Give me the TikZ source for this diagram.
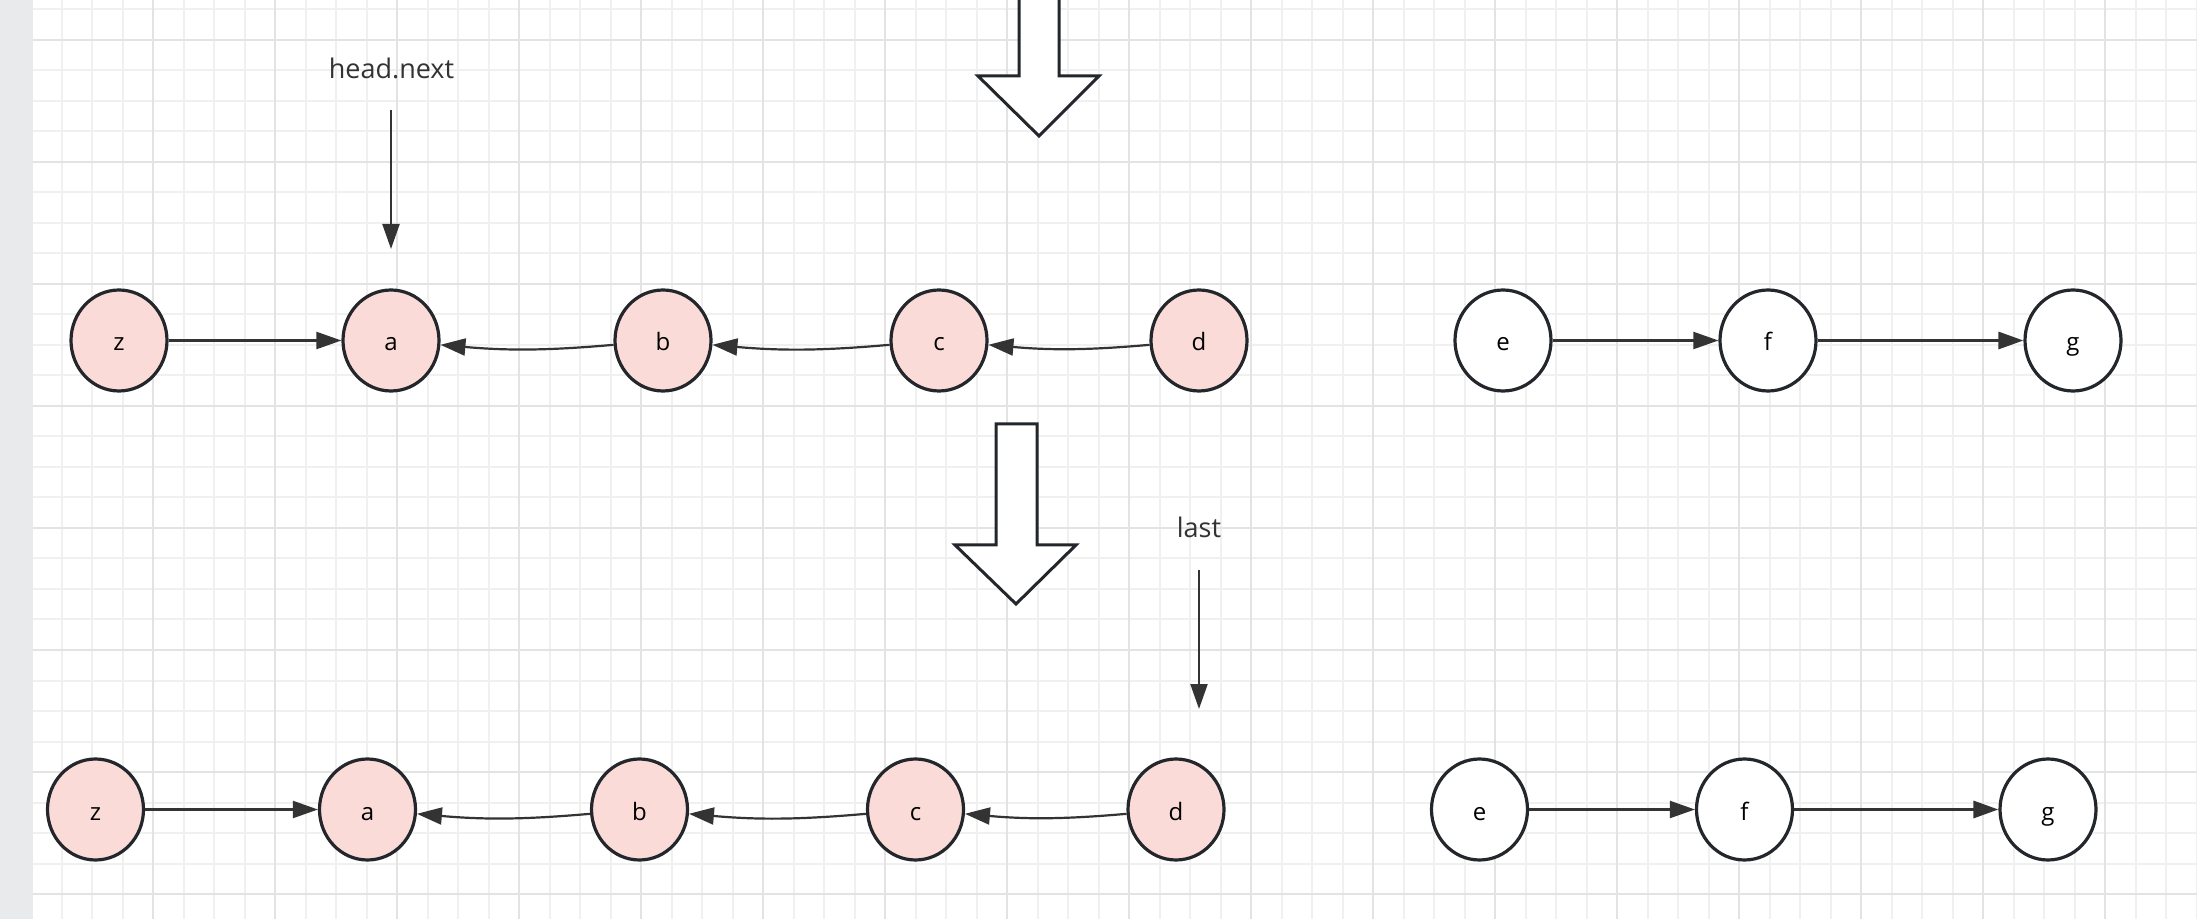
\documentclass[tikz,border=0pt]{standalone}
\usepackage{fontspec}
\setmainfont{Open Sans}
\usetikzlibrary{arrows.meta,shapes.geometric}
\definecolor{gridminor}{HTML}{F0F0F0}
\definecolor{gridmajor}{HTML}{E3E3E3}
\definecolor{sidebar}{HTML}{E9EAEC}
\definecolor{nodefill}{HTML}{FADBD8}
\definecolor{nodestroke}{HTML}{23272C}
\definecolor{edgecol}{HTML}{333333}
\definecolor{labelcol}{HTML}{333333}
\tikzset{
  listnode/.style={ellipse, draw=nodestroke, line width=1.6pt, minimum width=48pt, minimum height=50.5pt, inner sep=0pt,
    font=\fontsize{12}{12}\selectfont, text=black, text height=10.5pt, text depth=0pt},
  pinknode/.style={listnode, fill=nodefill},
  whitenode/.style={listnode, fill=white},
  edge/.style={draw=edgecol, line width=1.1pt, -{Triangle[length=12.5pt,width=8.5pt]}},
  pointerlabel/.style={font=\fontsize{13.5}{13.5}\selectfont, text=labelcol, inner sep=0pt, anchor=base},
  bigarrow/.style={draw=nodestroke, line width=1.5pt, fill=white, line join=miter},
  minorline/.style={draw=gridminor, line width=1pt},
  majorline/.style={draw=gridmajor, line width=1pt}
}
\begin{document}
\begin{tikzpicture}[x=0.5pt, y=-0.5pt]
\useasboundingbox (0,0) rectangle (2197,919);
\fill[white] (0,0) rectangle (2197,919);
% grid
\foreach \i in {0,...,71} {\draw[minorline] ({31+30.5*\i},0) -- ({31+30.5*\i},919);}
\foreach \i in {0,...,30} {\draw[minorline] (0,{9.5+30.5*\i}) -- (2197,{9.5+30.5*\i});}
\foreach \i in {0,...,17} {\draw[majorline] ({31+122*\i},0) -- ({31+122*\i},919);}
\foreach \i in {0,...,7} {\draw[majorline] (0,{40+122*\i}) -- (2197,{40+122*\i});}
\fill[sidebar] (0,0) rectangle (33,919);

% top hollow arrow
\draw[bigarrow] (1019,-5) -- (1019,76) -- (978,76) -- (1039,136) -- (1099,76) -- (1059,76) -- (1059,-5);
% middle hollow arrow
\draw[bigarrow] (996,424) -- (996,545) -- (955,545) -- (1016,604) -- (1076,545) -- (1037,545) -- (1037,424) -- cycle;

% top row
\node[pinknode] (z1) at (119,340.5) {z};
\node[pinknode] (a1) at (391,340.5) {a};
\node[pinknode] (b1) at (663,340.5) {b};
\node[pinknode] (c1) at (939,340.5) {c};
\node[pinknode] (d1) at (1199,340.5) {d};
\node[whitenode] (e1) at (1503,340.5) {e};
\node[whitenode] (f1) at (1768,340.5) {f};
\node[whitenode] (g1) at (2073,340.5) {g};

\draw[edge] (z1) -- (a1);
\draw[edge] (b1) to[bend left=5] (a1);
\draw[edge] (c1) to[bend left=5] (b1);
\draw[edge] (d1) to[bend left=5] (c1);
\draw[edge] (e1) -- (f1);
\draw[edge, line width=1.5pt] (f1) -- (g1);

% head.next pointer
\node[pointerlabel] (hn) at (391.5,79) {head.next};
\coordinate (hnS) at (391,110);
\coordinate (hnE) at (391,249);
\draw[edge] (hnS) -- (hnE);

% bottom row
\node[pinknode] (z2) at (95.5,809.5) {z};
\node[pinknode] (a2) at (367.5,809.5) {a};
\node[pinknode] (b2) at (639.5,809.5) {b};
\node[pinknode] (c2) at (915.5,809.5) {c};
\node[pinknode] (d2) at (1176,809.5) {d};
\node[whitenode] (e2) at (1479.5,809.5) {e};
\node[whitenode] (f2) at (1744.5,809.5) {f};
\node[whitenode] (g2) at (2048,809.5) {g};

\draw[edge] (z2) -- (a2);
\draw[edge] (b2) to[bend left=5] (a2);
\draw[edge] (c2) to[bend left=5] (b2);
\draw[edge] (d2) to[bend left=5] (c2);
\draw[edge] (e2) -- (f2);
\draw[edge, line width=1.5pt] (f2) -- (g2);

% last pointer
\node[pointerlabel] (last) at (1199,538) {last};
\coordinate (lastS) at (1199,570);
\coordinate (lastE) at (1199,709);
\draw[edge] (lastS) -- (lastE);
\end{tikzpicture}
\end{document}
